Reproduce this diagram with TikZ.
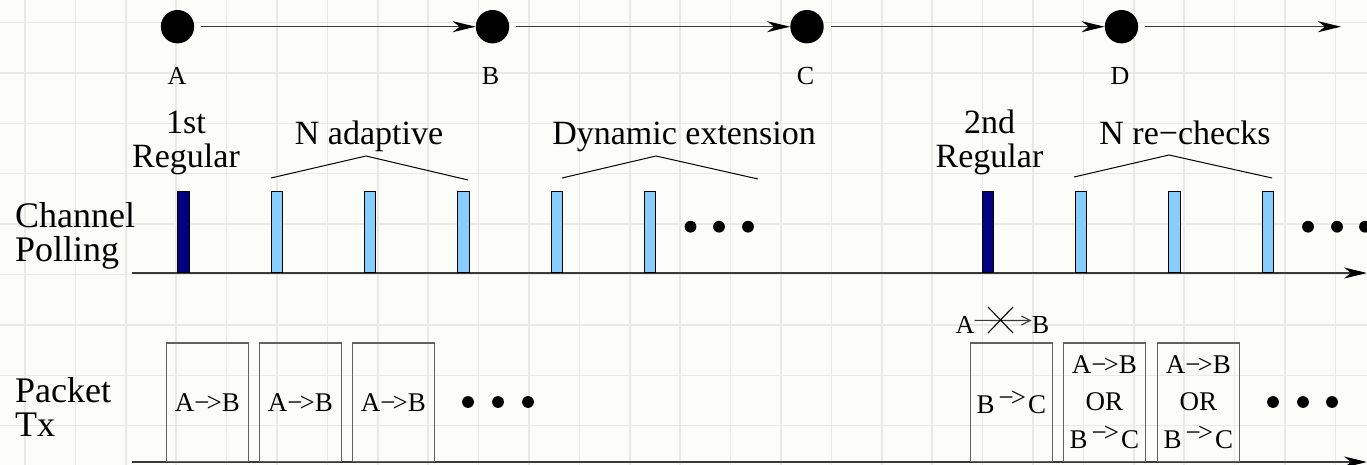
\documentclass[tikz,border=0pt]{standalone}
\usepackage{fontspec}
\setmainfont{Liberation Serif}
\usepackage{tikz}
\usetikzlibrary{arrows.meta, positioning}
\definecolor{pdark}{HTML}{000080}
\definecolor{plight}{HTML}{87CEFF}
\definecolor{paper}{HTML}{FCFCF8}
\definecolor{gridc}{HTML}{EAEAE4}
\definecolor{wire}{HTML}{3A3A3A}
\newcommand{\ato}{−\kern-3pt>}
\newcommand{\upato}{\hspace{4pt}\raisebox{7pt}{\ato}\hspace{2pt}}

\begin{document}
\begin{tikzpicture}[x=1pt, y=-1pt,
  station/.style={circle, fill=black, minimum size=33.4pt, inner sep=0pt},
  hop/.style={draw=wire, line width=1.3pt, -{Stealth[length=23pt, width=11pt, inset=7pt, black]}},
  letter/.style={font=\fontsize{26}{28}\selectfont, inner sep=0pt, anchor=base},
  phase/.style={font=\fontsize{34}{34}\selectfont, inner sep=0pt, align=center},
  rowname/.style={font=\fontsize{36}{34}\selectfont, inner sep=0pt, align=left, anchor=west},
  regpoll/.style={draw=black, line width=0.9pt, fill=pdark, minimum width=11.5pt, minimum height=81.5pt, inner sep=0pt, anchor=south},
  adapoll/.style={regpoll, fill=plight},
  pkt/.style={draw=wire!80, line width=1.2pt, minimum width=81.5pt, minimum height=118.5pt, inner sep=0pt, anchor=south west, align=center, font=\fontsize{27}{37.5}\selectfont},
  hat/.style={draw=black, line width=1pt},
  moredot/.style={circle, fill=black, minimum size=11.8pt, inner sep=0pt}]
\useasboundingbox (0,0) rectangle (1367,465);
\clip (0,0) rectangle (1367,465);
\fill[paper] (0,0) rectangle (1367,465);
\foreach \gx in {0,...,26} \draw[gridc, line width=1.5pt] (25+50.4*\gx,0) -- (25+50.4*\gx,465);
\foreach \gy in {0,...,8} \draw[gridc, line width=1.5pt] (0,22.5+50.4*\gy) -- (1367,22.5+50.4*\gy);

\node[station] (stA) at (177.5,26.7) {};
\node[station] (stB) at (492.5,26.7) {};
\node[station] (stC) at (807,26.7) {};
\node[station] (stD) at (1121.5,26.7) {};
\coordinate (stEnd) at (1341,26.7);
\draw[hop, shorten <=7pt] (stA) -- (stB);
\draw[hop, shorten <=7pt] (stB) -- (stC);
\draw[hop, shorten <=7pt] (stC) -- (stD);
\draw[hop, shorten <=7pt] (stD) -- (stEnd);
\node[letter] (nameA) at (177,85) {A};
\node[letter] (nameB) at (490.5,85) {B};
\node[letter] (nameC) at (805.5,85) {C};
\node[letter] (nameD) at (1120,85) {D};

\node[phase] (firstReg) at (186,142.5) {1st\\Regular};
\node[phase, anchor=base] (adaptive) at (369,145) {N adaptive};
\node[phase, anchor=base] (extension) at (684,145) {Dynamic extension};
\node[phase] (secondReg) at (989.5,142.5) {2nd\\Regular};
\node[phase, anchor=base] (rechecks) at (1185,145) {N re−checks};
\draw[hat] (271,178) -- (366,156) -- (468,180);
\draw[hat] (562,178) -- (656,156) -- (758,179);
\draw[hat] (1074,177) -- (1169,155) -- (1272,178);

\node[rowname] (chanPoll) at (15,235.5) {Channel\\Polling};
\coordinate (pollStart) at (132,273);
\coordinate (pollEnd) at (1367,273);
\draw[hop] (pollStart) -- (pollEnd);
\node[regpoll] (poll1) at (183.5,273) {};
\node[adapoll] (poll2) at (277,273) {};
\node[adapoll] (poll3) at (370,273) {};
\node[adapoll] (poll4) at (463.5,273) {};
\node[adapoll] (poll5) at (557,273) {};
\node[adapoll] (poll6) at (650,273) {};
\node[regpoll] (poll7) at (988,273) {};
\node[adapoll] (poll8) at (1081,273) {};
\node[adapoll] (poll9) at (1174.5,273) {};
\node[adapoll] (poll10) at (1268,273) {};
\node[moredot] (pollDotA1) at (690.5,226.7) {};
\node[moredot] (pollDotA2) at (719,226.7) {};
\node[moredot] (pollDotA3) at (748,226.7) {};
\node[moredot] (pollDotB1) at (1308,226.7) {};
\node[moredot] (pollDotB2) at (1337,226.7) {};
\node[moredot] (pollDotB3) at (1365,226.7) {};

\node[rowname] (pktTx) at (15,407.5) {Packet\\Tx};
\coordinate (pktStart) at (132,462);
\coordinate (pktEnd) at (1367,462);
\draw[hop] (pktStart) -- (pktEnd);
\node[pkt] (pktAB1) at (166,462) {A\ato B};
\node[pkt] (pktAB2) at (259,462) {A\ato B};
\node[pkt] (pktAB3) at (352,462) {A\ato B};
\node[pkt] (pktBC) at (970,462) {B\upato C};
\node[pkt] (pktOr1) at (1063,462) {A\ato B\\OR\\B\upato C};
\node[pkt] (pktOr2) at (1157,462) {A\ato B\\OR\\B\upato C};
\node[moredot] (pktDotA1) at (468,402) {};
\node[moredot] (pktDotA2) at (498,402) {};
\node[moredot] (pktDotA3) at (528,402) {};
\node[moredot] (pktDotB1) at (1273,402) {};
\node[moredot] (pktDotB2) at (1303,402) {};
\node[moredot] (pktDotB3) at (1332,402) {};

\node[letter] (failA) at (965,333) {A};
\node[letter] (failB) at (1040.5,333) {B};
\draw[draw=wire, line width=1.1pt, -{Straight Barb[length=9pt, width=9pt]}] ([yshift=4pt]failA.east) -- ([yshift=4pt]failB.west);
\draw[draw=black, line width=1.1pt] (988,307) -- (1013,333) (988,333) -- (1013,307);
\end{tikzpicture}
\end{document}
